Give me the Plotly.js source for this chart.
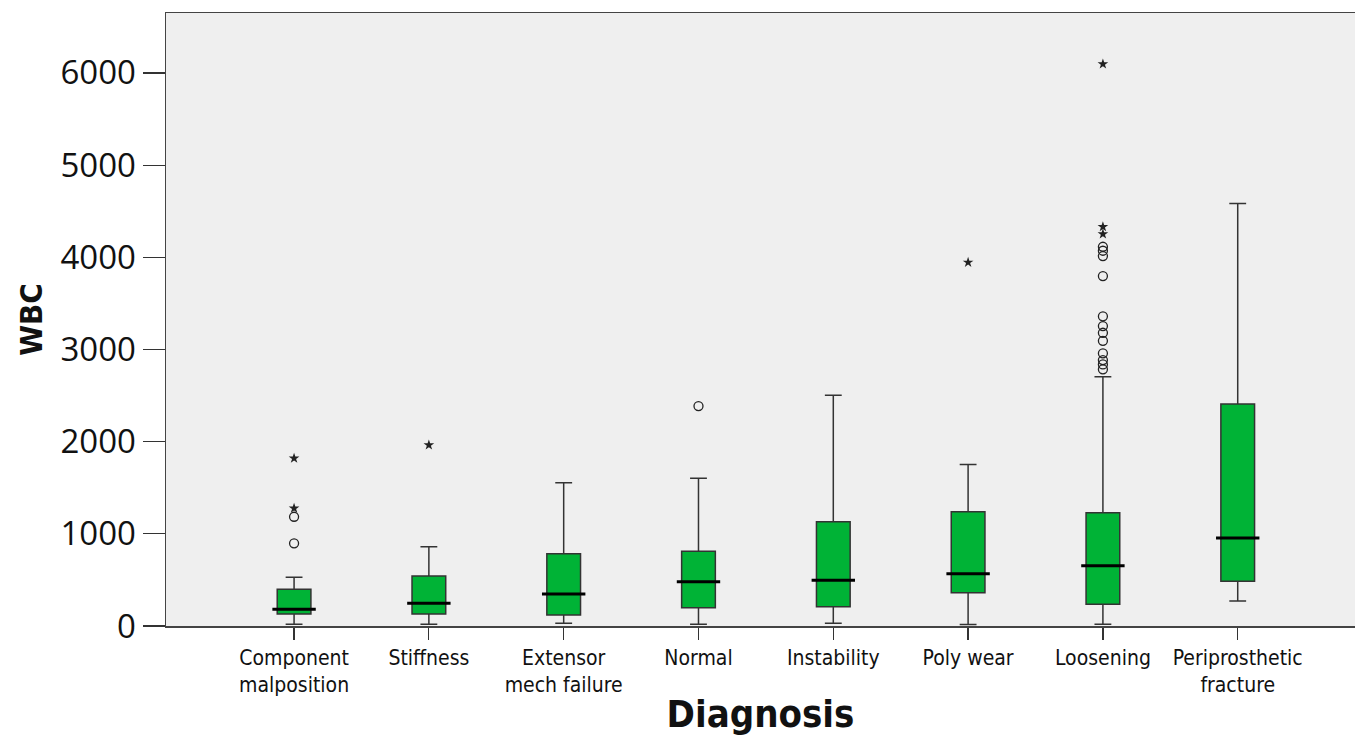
<!DOCTYPE html>
<html>
<head>
<meta charset="utf-8">
<script src="https://cdn.plot.ly/plotly-3.0.1.min.js"></script>
<style>html,body{margin:0;padding:0;background:#fff;}#chart{width:1355px;height:736px;}</style>
</head>
<body>
<div id="chart"></div>
<script>
const categories = ["Component malposition","Stiffness","Extensor mech failure","Normal","Instability","Poly wear","Loosening","Periprosthetic fracture"];
const tickLabels = ["Component<br>malposition","Stiffness","Extensor<br>mech failure","Normal","Instability","Poly wear","Loosening","Periprosthetic<br>fracture"];
const lowerWhisker = [20, 20, 29, 20, 29, 15, 18, 271];
const q1Values = [130, 130, 119, 199, 210, 362, 235, 485];
const medianValues = [181, 246, 347, 481, 495, 567, 654, 954];
const q3Values = [398, 542, 784, 810, 1131, 1240, 1229, 2408];
const upperWhisker = [528, 860, 1554, 1602, 2502, 1753, 2704, 4584];

// mild outliers (open circles)
const circleCats = ["Component malposition","Component malposition","Normal",
  "Loosening","Loosening","Loosening","Loosening","Loosening","Loosening","Loosening",
  "Loosening","Loosening","Loosening","Loosening","Loosening"];
const circleVals = [897, 1185, 2386,
  4114, 4071, 4013, 3796, 3359, 3254, 3181, 3094, 2958, 2885, 2838, 2784];
// extreme outliers (stars)
const starCats = ["Component malposition","Component malposition","Stiffness","Poly wear","Loosening","Loosening","Loosening"];
const starVals = [1277, 1819, 1963, 3944, 4331, 4252, 6096];

const traces = [
  {
    type: 'box',
    x: categories,
    q1: q1Values,
    median: medianValues,
    q3: q3Values,
    lowerfence: lowerWhisker,
    upperfence: upperWhisker,
    boxpoints: false,
    width: 0.25,
    whiskerwidth: 0.5,
    fillcolor: '#00b336',
    line: {color: '#333333', width: 1.5},
    hoverinfo: 'skip',
    showlegend: false
  },
  {
    type: 'scatter', mode: 'markers',
    x: categories, y: medianValues,
    marker: {symbol: 'line-ew', size: 31, color: '#000', line: {width: 3, color: '#000'}},
    hoverinfo: 'skip', showlegend: false
  },
  {
    type: 'scatter', mode: 'markers',
    x: circleCats, y: circleVals,
    marker: {symbol: 'circle-open', size: 9, color: '#222', line: {width: 1.3, color: '#222'}},
    hoverinfo: 'skip', showlegend: false
  },
  {
    type: 'scatter', mode: 'markers',
    x: starCats, y: starVals,
    marker: {symbol: 'star', size: 8, color: '#222', line: {width: 0}},
    hoverinfo: 'skip', showlegend: false
  }
];

const layout = {
  width: 1355, height: 736,
  margin: {l: 166, r: 0, t: 13, b: 110},
  paper_bgcolor: '#ffffff',
  plot_bgcolor: '#efefef',
  showlegend: false,
  xaxis: {
    type: 'category',
    range: [-0.95, 7.87],
    tickvals: categories,
    ticktext: tickLabels,
    ticks: 'outside', ticklen: 12, tickwidth: 1.2, tickcolor: '#333',
    showline: true, linecolor: '#444', linewidth: 1.5, mirror: true,
    showgrid: false, zeroline: false,
    tickfont: {family: 'DejaVu Sans Condensed, Liberation Sans Narrow, Roboto, sans-serif', size: 21, color: '#111'},
    title: {text: 'Diagnosis', font: {family: 'DejaVu Sans Condensed, DejaVu Sans, sans-serif', size: 38, color: '#111', weight: 'bold'}, standoff: 10}
  },
  yaxis: {
    range: [0, 6650],
    tickvals: [0, 1000, 2000, 3000, 4000, 5000, 6000],
    ticks: 'outside', ticklen: 22, tickwidth: 1.2, tickcolor: '#333',
    showline: true, linecolor: '#444', linewidth: 1.5,
    showgrid: false, zeroline: false,
    tickfont: {family: 'Open Sans, Liberation Sans, sans-serif', size: 33, color: '#111'},
    title: {text: 'WBC', font: {family: 'DejaVu Sans Condensed, DejaVu Sans, sans-serif', size: 31, color: '#111', weight: 'bold'}, standoff: 8}
  }
};

Plotly.newPlot('chart', traces, layout, {displayModeBar: false, staticPlot: true});
</script>
</body>
</html>
